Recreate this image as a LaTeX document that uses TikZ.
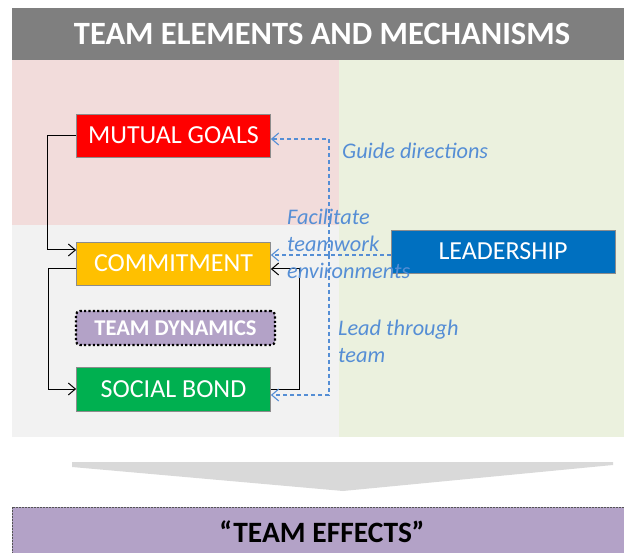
\documentclass[tikz,border=0pt]{standalone}
\usepackage{fontspec}
\setmainfont{Carlito}
\usetikzlibrary{arrows.meta,calc}
\definecolor{titlegray}{HTML}{7F7F7F}
\definecolor{pinkbg}{HTML}{F2DCDB}
\definecolor{greenbg}{HTML}{EBF1DE}
\definecolor{graybg}{HTML}{F2F2F2}
\definecolor{goalred}{HTML}{FF0000}
\definecolor{commityellow}{HTML}{FFC000}
\definecolor{bondgreen}{HTML}{00B050}
\definecolor{leadblue}{HTML}{0070C0}
\definecolor{dynpurple}{HTML}{B3A2C7}
\definecolor{linkblue}{HTML}{558ED5}
\definecolor{arrowgray}{HTML}{D9D9D9}
\definecolor{edgegray}{HTML}{8C8C8C}
\begin{document}
\begin{tikzpicture}[x=1pt,y=-1pt,
  element/.style={draw=edgegray, line width=0.8pt, text=white, minimum width=194pt,
    minimum height=43pt, inner sep=0pt, font=\fontsize{26}{30}\selectfont},
  flow/.style={draw=black, line width=1pt, -{Straight Barb[length=7pt,width=12pt]}},
  guide/.style={draw=linkblue, line width=1.1pt, dash pattern=on 4pt off 3pt,
    -{Straight Barb[length=7pt,width=12pt]}},
  note/.style={text=linkblue, font=\fontsize{22.3}{27}\selectfont\itshape, align=left,
    inner sep=0pt, anchor=west}]
\useasboundingbox (0,0) rectangle (624,553);

% background panels
\fill[titlegray] (12,8) rectangle (624,60);
\fill[pinkbg] (12,60) rectangle (339,225);
\fill[graybg] (12,225) rectangle (339,437);
\fill[greenbg] (339,60) rectangle (624,437);

\node[text=white, font=\fontsize{32.5}{36}\selectfont\bfseries] (title) at (322,34)
  {TEAM ELEMENTS AND MECHANISMS};

% team elements
\node[element, fill=goalred] (goals) at (173.5,135.5) {MUTUAL GOALS};
\node[element, fill=commityellow] (commit) at (173.5,263.5) {COMMITMENT};
\node[fill=dynpurple, draw=black, line width=2.2pt, dash pattern=on 2.2pt off 2.2pt,
  rounded corners=4pt, minimum width=199pt, minimum height=34pt, inner sep=0pt,
  text=white, font=\fontsize{22.5}{25}\selectfont\bfseries] (dyn) at (175.5,328) {TEAM DYNAMICS};
\node[element, fill=bondgreen, minimum height=44pt] (bond) at (173.5,389) {SOCIAL BOND};
\node[element, fill=leadblue, minimum width=224pt] (lead) at (503,251.5) {LEADERSHIP};

% cycle between the elements
\draw[flow] (goals.west) -- ++(-29,0) |- ($(commit.west)+(0,-13.5)$);
\draw[flow] ($(commit.west)+(0,5.5)$) -- ++(-28,0) |- (bond.west);
\draw[flow] (bond.east) -- ++(29,0) |- ($(commit.east)+(0,5.5)$);

% leadership influences
\coordinate (hub) at (329,255);
\draw[guide] (lead.west |- hub) -- (commit.east |- hub);
\draw[guide] (hub) |- ($(goals.east)+(0,3.5)$);
\draw[guide] (hub) |- ($(bond.east)+(0,6)$);

\node[note] (guidelbl) at (342,151) {Guide directions};
\node[note] (faclbl) at (287,244) {Facilitate\\teamwork\\environments};
\node[note] (leadlbl) at (338,341.5) {Lead through\\team};

% outcome
\fill[arrowgray] (72,462) -- (613,462) -- (613,465) -- (343,491) -- (72,467) -- cycle;
\fill[dynpurple] (12,507) rectangle (630,560);
\draw[edgegray!60!black, line width=0.7pt, dash pattern=on 2pt off 1pt]
  (12,560) -- (12,507) -- (630,507);
\node[text=black, font=\fontsize{29.5}{32}\selectfont\bfseries] (effects) at (322,532)
  {“TEAM EFFECTS”};
\end{tikzpicture}
\end{document}
